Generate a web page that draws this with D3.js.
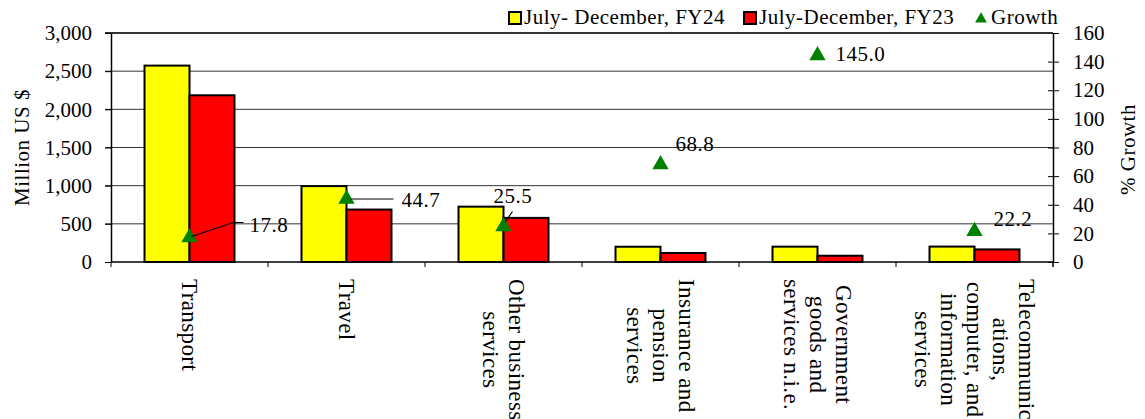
<!DOCTYPE html>
<html>
<head>
<meta charset="utf-8">
<script src="https://cdn.jsdelivr.net/npm/d3@7"></script>
<style>
  body { margin: 0; background: #fff; }
  svg { display: block; font-family: "Liberation Serif", serif; }
</style>
</head>
<body>
<svg id="chart" width="1145" height="419"></svg>
<script>
// data
const categories = [
  "Transport",
  "Travel",
  "Other business\nservices",
  "Insurance and\npension\nservices",
  "Government\ngoods and\nservices n.i.e.",
  "Telecommunic\nations,\ncomputer, and\ninformation\nservices"
]
const seriesNames = ["July- December, FY24", "July-December, FY23"]
const fy24 = [2573, 994, 725, 200, 201, 202]
const fy23 = [2184, 687, 578, 118, 82, 165]
const growth = [17.8, 44.7, 25.5, 68.8, 145.0, 22.2]
const leftTicks = [0, 500, 1000, 1500, 2000, 2500, 3000]
const rightTicks = [0, 20, 40, 60, 80, 100, 120, 140, 160]

// where each growth label sits relative to its marker, plus leader lines
const labelOffsets = [
  { dx: 60, dy: -12, leader: [[2, 0], [44, -14], [54, -14]] },
  { dx: 55, dy: 2, leader: [[4, 1], [47, 1]] },
  { dx: -10, dy: -30, leader: [[2, -4], [9, -14]] },
  { dx: 15, dy: -20 },
  { dx: 18, dy: 0 },
  { dx: 19, dy: -11 }
]

const colors = ["#ffff00", "#ff0000"]
const green = "#008000"

const svg = d3.select("#chart")
const pLeft = 111, pRight = 1053, pTop = 33, pBottom = 262

const x = d3.scaleBand().domain(categories).range([pLeft, pRight])
const xInner = d3.scaleBand().domain([0, 1]).range([0, x.bandwidth()])
  .paddingInner(0).paddingOuter(0.745)
const y = d3.scaleLinear().domain([0, 3000]).range([pBottom, pTop])
const y2 = d3.scaleLinear().domain([0, 160]).range([pBottom, pTop])

// gridlines
svg.append("g")
  .selectAll("line")
  .data(leftTicks.filter(d => d > 0))
  .join("line")
  .attr("x1", pLeft - 6).attr("x2", pRight)
  .attr("y1", d => y(d)).attr("y2", d => y(d))
  .attr("stroke", "#333")
  .attr("stroke-width", d => d === 3000 ? 2 : 1)

// bars
const rows = categories.map((c, i) => ({ c, vals: [fy24[i], fy23[i]] }))
const groups = svg.append("g").selectAll("g")
  .data(rows)
  .join("g")
  .attr("transform", d => `translate(${x(d.c)},0)`)
groups.selectAll("rect")
  .data(d => d.vals.map((v, k) => ({ v, k })))
  .join("rect")
  .attr("x", d => xInner(d.k))
  .attr("width", xInner.bandwidth())
  .attr("y", d => y(d.v))
  .attr("height", d => y(0) - y(d.v))
  .attr("fill", d => colors[d.k])
  .attr("stroke", "#000")
  .attr("stroke-width", 2)

// left axis
const gl = svg.append("g")
  .attr("transform", `translate(${pLeft},0)`)
  .call(d3.axisLeft(y).tickValues(leftTicks).tickFormat(d3.format(",")).tickSize(6).tickSizeOuter(0).tickPadding(13))
gl.select(".domain").attr("stroke", "#000").attr("stroke-width", 1.5)
gl.selectAll(".tick line").attr("stroke", "#000")
gl.selectAll("text").attr("font-size", 21).attr("font-family", "Liberation Serif").attr("fill", "#000")

// right axis
const gr = svg.append("g")
  .attr("transform", `translate(${pRight},0)`)
  .call(d3.axisRight(y2).tickValues(rightTicks).tickSize(6).tickSizeOuter(0).tickPadding(14))
gr.select(".domain").attr("stroke", "#000").attr("stroke-width", 1.5)
gr.selectAll(".tick line").attr("x1", d => d === 160 ? 0 : -5).attr("stroke", "#000")
gr.selectAll("text").attr("font-size", 21).attr("font-family", "Liberation Serif").attr("fill", "#000")
gr.append("line").attr("x1", 0).attr("x2", 0).attr("y1", pBottom).attr("y2", pBottom + 5).attr("stroke", "#000")

// bottom axis line with ticks at category boundaries
const bounds = categories.map(c => x(c)).concat([pRight])
svg.append("line")
  .attr("x1", pLeft).attr("x2", pRight)
  .attr("y1", pBottom).attr("y2", pBottom)
  .attr("stroke", "#000").attr("stroke-width", 1.5)
svg.append("g").selectAll("line")
  .data(bounds)
  .join("line")
  .attr("x1", d => d).attr("x2", d => d)
  .attr("y1", pBottom).attr("y2", pBottom + 5)
  .attr("stroke", "#000")

// category labels, rotated, top aligned on the longest line
const lh = 26
categories.forEach(c => {
  const lines = c.split("\n")
  const g = svg.append("g")
  const texts = g.selectAll("text")
    .data(lines)
    .join("text")
    .attr("font-size", 23)
    .attr("letter-spacing", 0.4)
    .attr("text-anchor", "middle")
    .attr("dominant-baseline", "central")
    .attr("fill", "#000")
    .text(d => d)
  let w = 0
  texts.each(function () { w = Math.max(w, this.getComputedTextLength()) })
  const n = lines.length
  texts.attr("x", w / 2).attr("y", (d, i) => -((n - 1) / 2 - i) * lh)
  g.attr("transform", `translate(${x(c) + x.bandwidth() / 2},${pBottom + 17}) rotate(90)`)
})

// growth markers
const tri = d3.symbol().type(d3.symbolTriangle).size(115)
const pts = categories.map((c, i) => ({
  cx: x(c) + x.bandwidth() / 2, cy: y2(growth[i]), g: growth[i], o: labelOffsets[i]
}))
svg.append("g").selectAll("path")
  .data(pts)
  .join("path")
  .attr("d", tri)
  .attr("transform", d => `translate(${d.cx},${d.cy + 1})`)
  .attr("fill", green)

svg.append("g").selectAll("path")
  .data(pts.filter(d => d.o.leader))
  .join("path")
  .attr("d", d => d3.line()(d.o.leader.map(p => [d.cx + p[0], d.cy + p[1]])))
  .attr("fill", "none")
  .attr("stroke", "#000")
  .attr("stroke-width", 1.2)

svg.append("g").selectAll("text")
  .data(pts)
  .join("text")
  .attr("x", d => d.cx + d.o.dx)
  .attr("y", d => d.cy + d.o.dy)
  .attr("dominant-baseline", "central")
  .attr("font-size", 21)
  .attr("letter-spacing", 0.5)
  .attr("fill", "#000")
  .text(d => d3.format(".1f")(d.g))

// axis titles
svg.append("text")
  .attr("transform", `translate(22,${(pTop + pBottom) / 2}) rotate(-90)`)
  .attr("text-anchor", "middle")
  .attr("dominant-baseline", "central")
  .attr("font-size", 21).attr("letter-spacing", 0.5)
  .text("Million US $")
svg.append("text")
  .attr("transform", `translate(1128,${(pTop + pBottom) / 2 + 2}) rotate(-90)`)
  .attr("text-anchor", "middle")
  .attr("dominant-baseline", "central")
  .attr("font-size", 21).attr("letter-spacing", 0.5)
  .text("% Growth")

// legend
const lg = svg.append("g")
const legendX = [509, 744]
seriesNames.forEach((s, i) => {
  lg.append("rect")
    .attr("x", legendX[i]).attr("y", 12).attr("width", 12).attr("height", 12)
    .attr("fill", colors[i]).attr("stroke", "#000").attr("stroke-width", 2)
  lg.append("text")
    .attr("x", legendX[i] + 15).attr("y", 24)
    .attr("font-size", 21).attr("letter-spacing", 0.5)
    .text(s)
})
lg.append("path")
  .attr("d", d3.symbol().type(d3.symbolTriangle).size(60))
  .attr("transform", "translate(981,19)")
  .attr("fill", green)
lg.append("text")
  .attr("x", 991).attr("y", 24)
  .attr("font-size", 21).attr("letter-spacing", 0.5)
  .text("Growth")
</script>
</body>
</html>
